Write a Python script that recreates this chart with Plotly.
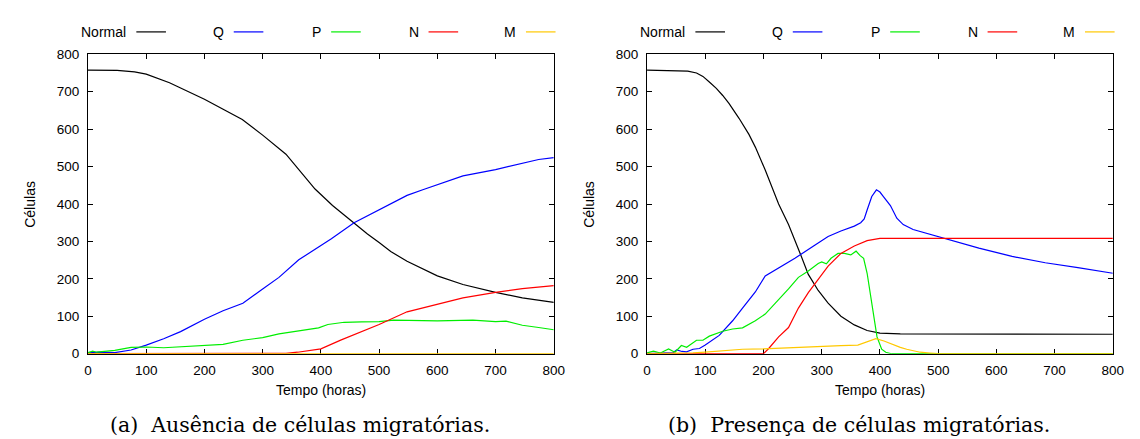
import plotly.graph_objects as go

# ---------------- data ----------------
series_names = ["Normal", "Q", "P", "N", "M"]
series_colors = ["#000000", "#0000ff", "#00ee00", "#ff0000", "#ffc800"]

# (a) Ausência de células migratórias
normal_a_t = [0, 50, 80, 100, 140, 200, 265, 300, 340, 365, 390, 420, 457, 480, 500, 520, 548, 575, 600, 644, 700, 746, 800]
normal_a_v = [758, 757, 753, 747, 724, 680, 626, 584, 533, 488, 440, 396, 348, 320, 297, 273, 247, 226, 208, 185, 164, 149, 137]

q_a_t = [0, 20, 46, 74, 100, 130, 159, 200, 232, 266, 300, 328, 362, 396, 418, 457, 500, 525, 548, 575, 600, 644, 700, 746, 774, 800]
q_a_v = [2, 4, 3, 10, 23, 40, 59, 92, 115, 135, 173, 204, 251, 286, 307, 350, 385, 405, 423, 438, 451, 475, 492, 508, 519, 524]

p_a_t = [0, 8, 15, 23, 46, 74, 100, 130, 159, 200, 232, 266, 300, 328, 362, 396, 412, 440, 470, 500, 525, 560, 600, 661, 700, 718, 746, 774, 800]
p_a_v = [3, 7, 4, 5, 9, 17, 18, 16, 19, 23, 25, 36, 43, 53, 60, 69, 78, 84, 85, 86, 90, 89, 88, 90, 86, 87, 76, 70, 64]

n_a_t = [0, 340, 360, 380, 400, 435, 470, 500, 548, 600, 644, 700, 746, 800]
n_a_v = [0, 1, 4, 9, 13, 37, 58, 78, 112, 133, 149, 164, 174, 182]

m_a_t = [0, 800]
m_a_v = [0, 0]

# (b) Presença de células migratórias
normal_b_t = [0, 45, 70, 85, 96, 107, 119, 130, 141, 158, 175, 186, 203, 226, 243, 263, 277, 294, 311, 333, 356, 378, 400, 435, 800]
normal_b_v = [758, 757, 755, 750, 741, 726, 709, 690, 668, 629, 586, 552, 491, 400, 345, 268, 212, 169, 135, 100, 77, 62, 55, 53, 52]

q_b_t = [0, 30, 45, 51, 60, 68, 79, 90, 100, 124, 147, 164, 186, 203, 226, 254, 288, 311, 333, 356, 367, 373, 378,
         386, 394, 400, 406, 418, 429, 440, 457, 497, 525, 570, 627, 684, 740, 800]
q_b_v = [0, 1, 3, 10, 6, 5, 12, 14, 23, 49, 88, 122, 165, 208, 229, 255, 290, 313, 328, 341, 350, 360, 384,
         420, 438, 432, 420, 396, 362, 345, 332, 315, 302, 282, 260, 243, 230, 215]

p_b_t = [0, 11, 23, 37, 48, 59, 68, 85, 96, 107, 130, 147, 164, 186, 203, 226, 243, 260, 277, 294, 300, 308, 316,
         328, 339, 350, 359, 366, 372, 378, 387, 395, 403, 410, 420, 800]
p_b_v = [2, 7, 2, 13, 4, 22, 17, 36, 36, 47, 60, 66, 69, 88, 106, 143, 173, 204, 221, 241, 245, 240, 255,
         268, 268, 264, 274, 262, 255, 215, 120, 45, 12, 4, 0, 0]

n_b_t = [0, 200, 209, 226, 243, 260, 277, 294, 311, 333, 356, 378, 390, 400, 800]
n_b_v = [0, 0, 14, 45, 70, 122, 163, 199, 234, 268, 288, 302, 306, 308, 308]

m_b_t = [0, 50, 79, 100, 130, 164, 200, 232, 265, 300, 333, 362, 378, 393, 407, 424, 435, 446, 469, 486, 500, 800]
m_b_v = [0, 0, 2, 4, 8.6, 12, 13, 15.5, 17, 19, 21.5, 23, 32, 40, 34, 23, 17, 12, 4, 1.7, 0, 0]

x_ticks = [0, 100, 200, 300, 400, 500, 600, 700, 800]
y_ticks = [0, 100, 200, 300, 400, 500, 600, 700, 800]
x_title = "Tempo (horas)"
y_title = "Células"
captions = ["(a)\u00a0 Ausência de células migratórias.", "(b)\u00a0 Presença de células migratórias."]

panels = [
    [(normal_a_t, normal_a_v), (q_a_t, q_a_v), (p_a_t, p_a_v), (n_a_t, n_a_v), (m_a_t, m_a_v)],
    [(normal_b_t, normal_b_v), (q_b_t, q_b_v), (p_b_t, p_b_v), (n_b_t, n_b_v), (m_b_t, m_b_v)],
]

# ---------------- layout geometry (pixels) ----------------
W, H = 1140, 439
panel_x = [(77, 549), (643.5, 1115.5)]
plot_top, plot_bottom = 40.7, 350.7
SANS = "Liberation Sans, Arial, sans-serif"
SERIF = "DejaVu Serif, serif"


def px(x):
    return x / W


def py(y):
    return 1 - y / H


fig = go.Figure()
annotations = []
shapes = []

for pi, series in enumerate(panels):
    xa = "x" if pi == 0 else "x2"
    ya = "y" if pi == 0 else "y2"
    for si, (t, v) in enumerate(series):
        fig.add_trace(go.Scatter(
            x=t, y=v, mode="lines", xaxis=xa, yaxis=ya,
            line=dict(color=series_colors[si], width=1.2),
            showlegend=False, hoverinfo="skip"))

    x0, x1 = panel_x[pi]
    # gnuplot-style legend: label, then line sample
    for si, name in enumerate(series_names):
        ls = x0 + 49 + si * 98.7
        shapes.append(dict(type="line", xref="paper", yref="paper",
                           x0=px(ls), x1=px(ls + 30), y0=py(17.5), y1=py(17.5),
                           line=dict(color=series_colors[si], width=1.2)))
        annotations.append(dict(text=name, xref="paper", yref="paper",
                                x=px(ls - 8), y=py(17.5), xanchor="right", yanchor="middle",
                                showarrow=False, font=dict(family=SANS, size=14, color="#000")))
    # axis titles
    annotations.append(dict(text=y_title, xref="paper", yref="paper",
                            x=px(x0 - 59), y=py((plot_top + plot_bottom) / 2), textangle=-90,
                            xanchor="center", yanchor="middle", showarrow=False,
                            font=dict(family=SANS, size=14, color="#000")))
    annotations.append(dict(text=x_title, xref="paper", yref="paper",
                            x=px((x0 + x1) / 2), y=py(388), xanchor="center", yanchor="middle",
                            showarrow=False, font=dict(family=SANS, size=14, color="#000")))
    annotations.append(dict(text=captions[pi], xref="paper", yref="paper",
                            x=px((x0 + x1) / 2 - 21.5), y=py(425), xanchor="center", yanchor="middle",
                            showarrow=False, font=dict(family=SERIF, size=20.5, color="#000")))

axis_common = dict(
    range=[0, 800], showgrid=False, zeroline=False, showline=True, linecolor="#000", linewidth=1,
    mirror="allticks", ticks="inside", ticklen=5, tickwidth=1, tickcolor="#000",
    tickfont=dict(family=SANS, size=13.5, color="#000"), layer="below traces",
)

layout = dict(
    width=W, height=H, margin=dict(l=0, r=0, t=0, b=0),
    paper_bgcolor="white", plot_bgcolor="white",
    annotations=annotations, shapes=shapes,
)
for pi in range(2):
    x0, x1 = panel_x[pi]
    sfx = "" if pi == 0 else "2"
    layout["xaxis" + sfx] = dict(axis_common, domain=[px(x0), px(x1)], tickvals=x_ticks,
                                 anchor="y" + sfx, ticklabelstandoff=4)
    layout["yaxis" + sfx] = dict(axis_common, domain=[py(plot_bottom), py(plot_top)], tickvals=y_ticks,
                                 anchor="x" + sfx, ticklabelstandoff=5)

fig.update_layout(**layout)
fig.write_html("out.html")
